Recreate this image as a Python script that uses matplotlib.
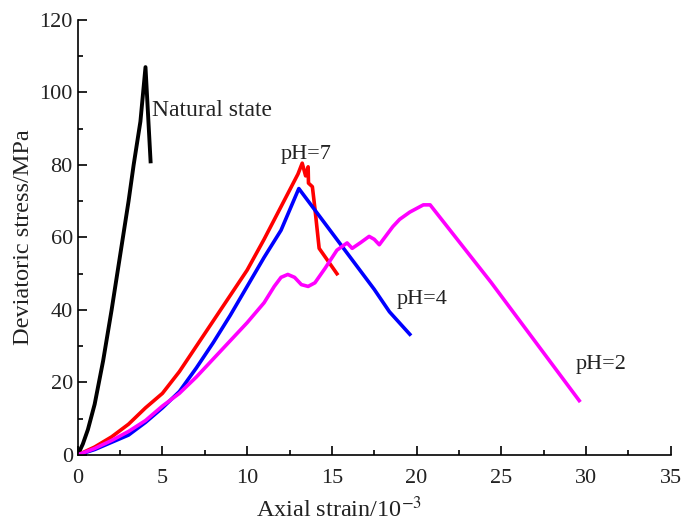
import numpy as np
import matplotlib
matplotlib.use('Agg')
import matplotlib.pyplot as plt

plt.rcParams['font.family'] = ['Liberation Serif', 'DejaVu Serif']
plt.rcParams['mathtext.fontset'] = 'stix'

# natural state
nat_x = [0, 0.3, 0.6, 1.0, 1.5, 2.0, 2.5, 3.0, 3.3, 3.7, 4.0, 4.3]
nat_y = [0, 3, 7, 14, 26, 40, 55, 70, 80, 92, 107, 81]

# pH=7
ph7_x = [0, 1, 2, 3, 4, 5, 6, 7, 8, 9, 10, 11, 12, 13, 13.25, 13.45, 13.6, 13.62, 13.85, 14.0, 14.25, 14.7, 15.3]
ph7_y = [0, 2.2, 5, 8.5, 13, 17, 23, 30, 37, 44, 51, 59.5, 68.5, 77.5, 80.5, 77, 79.5, 75, 74, 68, 57, 54, 50]

# pH=4
ph4_x = [0, 1, 2, 3, 4, 5, 6, 7, 8, 9, 10, 11, 12, 13.05, 17.5, 18.4, 19.6]
ph4_y = [0, 1.5, 3.5, 5.5, 9.0, 13.0, 17.5, 24, 31, 38.5, 46.5, 54.5, 62, 73.5, 45.7, 39.5, 33.3]

# pH=2
ph2_x = [0, 1, 2, 3, 4, 5, 6, 7, 8, 9, 10, 11, 11.6, 12.0, 12.4, 12.8, 13.2, 13.6, 14.0,
         14.6, 15.3, 15.9, 16.2, 16.7, 17.2, 17.5, 17.8, 18.2, 18.6, 19.0, 19.6, 20.4, 20.8, 24.4, 29.6]
ph2_y = [0, 1.8, 4, 6.5, 9.5, 13.5, 17, 21.5, 26.5, 31.5, 36.5, 42, 46.5, 49, 49.8, 49, 47, 46.5, 47.5,
         51.5, 56.5, 58.5, 57, 58.6, 60.3, 59.5, 58, 60.5, 63, 65, 67, 69, 69, 47.6, 15]

fig = plt.figure(figsize=(6.86, 5.22), dpi=100)
ax = fig.add_axes([0.1133, 0.1284, 0.8644, 0.8333])

ax.plot(nat_x, nat_y, color='black', lw=2.8)
ax.plot(ph7_x, ph7_y, color='red', lw=2.6)
ax.plot(ph4_x, ph4_y, color='blue', lw=2.6)
ax.plot(ph2_x, ph2_y, color='magenta', lw=2.6)

fs = 16
ax.text(4.4, 95, 'Natural state', fontsize=17, va='center', color='#222222')
ax.text(12.0, 83, 'pH=7', fontsize=fs, va='center', color='#222222')
ax.text(18.8, 43, 'pH=4', fontsize=fs, va='center', color='#222222')
ax.text(29.4, 25, 'pH=2', fontsize=fs, va='center', color='#222222')

ax.set_xlim(0, 35)
ax.set_ylim(0, 120)
ax.set_xticks(np.arange(0, 36, 5))
ax.set_yticks(np.arange(0, 121, 20))
ax.set_xticks(np.arange(2.5, 35, 5), minor=True)
ax.set_yticks(np.arange(10, 120, 20), minor=True)
ax.tick_params(which='both', direction='in', labelsize=fs, width=1.2, colors='black', labelcolor='#222222')
ax.tick_params(which='major', length=6.5)
ax.tick_params(which='minor', length=3.5)
ax.tick_params(axis='x', which='both', pad=10)
ax.spines['top'].set_visible(False)
ax.spines['right'].set_visible(False)
for s in ['left', 'bottom']:
    ax.spines[s].set_linewidth(1.2)

ax.set_xlabel('Axial strain/10$^{-3}$', fontsize=17.5, color='#222222')
ax.xaxis.set_label_coords(0.44, -0.095)
ax.set_ylabel('Deviatoric stress/MPa', fontsize=17.5, labelpad=4, color='#222222')

fig.savefig('out.png', dpi=100)
